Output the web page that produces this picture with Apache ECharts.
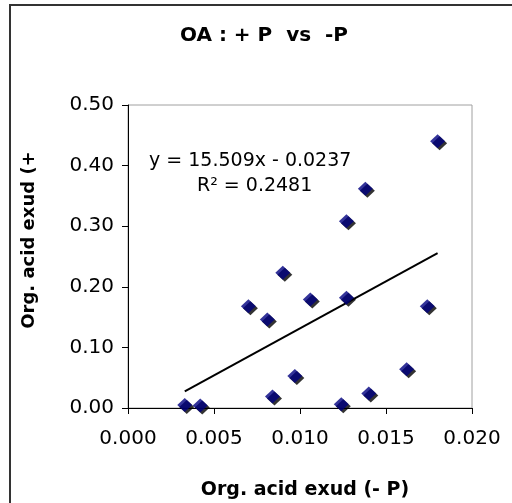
<!DOCTYPE html>
<html>
<head>
<meta charset="utf-8">
<script src="https://cdn.jsdelivr.net/npm/echarts@6/dist/echarts.min.js"></script>
<style>
html,body{margin:0;padding:0;background:#fff;}
#chart{width:512px;height:503px;}
</style>
</head>
<body>
<div id="chart"></div>
<script>
// Data
var xMinusP = [0.0033, 0.0042, 0.0070, 0.0081, 0.0084, 0.0090, 0.0097, 0.0106, 0.0127, 0.0127, 0.0124, 0.0138, 0.0140, 0.0162, 0.0174, 0.0180];
var yPlusP  = [0.005, 0.004, 0.168, 0.146, 0.019, 0.223, 0.053, 0.179, 0.308, 0.182, 0.006, 0.362, 0.024, 0.064, 0.168, 0.440];
var trendSlope = 15.509;
var trendIntercept = -0.0237;
var xTickLabels = ['0.000', '0.005', '0.010', '0.015', '0.020'];
var yTickLabels = ['0.00', '0.10', '0.20', '0.30', '0.40', '0.50'];
var titleText = 'OA : + P  vs  -P';
var xAxisTitle = 'Org. acid exud (- P)';
var yAxisTitle = 'Org. acid exud (+';
var eqLine1 = 'y = 15.509x - 0.0237';
var eqLine2 = 'R\u00b2 = 0.2481';

var pts = xMinusP.map(function (x, i) { return [x, yPlusP[i]]; });
var xmin = Math.min.apply(null, xMinusP), xmax = Math.max.apply(null, xMinusP);
var trend = [[xmin, trendSlope * xmin + trendIntercept], [xmax, trendSlope * xmax + trendIntercept]];

var FONT = '"DejaVu Sans", Verdana, sans-serif';
var chart = echarts.init(document.getElementById('chart'), null, {renderer: 'canvas'});
chart.setOption({
  animation: false,
  backgroundColor: '#fff',
  grid: {left: 128, right: 40, top: 105, bottom: 95, show: true, borderColor: '#a0a0a0', borderWidth: 1, backgroundColor: 'transparent'},
  xAxis: {
    type: 'value', min: 0, max: 0.02, interval: 0.005,
    axisLine: {show: true, onZero: false, lineStyle: {color: '#000', width: 1}},
    axisTick: {show: true, inside: false, length: 6, lineStyle: {color: '#000'}},
    splitLine: {show: false},
    axisLabel: {fontFamily: FONT, fontSize: 20, color: '#000', margin: 21,
      formatter: function (v) { return xTickLabels[Math.round(v / 0.005)]; }}
  },
  yAxis: {
    type: 'value', min: 0, max: 0.5, interval: 0.1,
    axisLine: {show: true, onZero: false, lineStyle: {color: '#000', width: 1}},
    axisTick: {show: true, inside: false, length: 6, lineStyle: {color: '#000'}},
    splitLine: {show: false},
    axisLabel: {fontFamily: FONT, fontSize: 20, color: '#000', margin: 14,
      formatter: function (v) { return yTickLabels[Math.round(v / 0.1)]; }}
  },
  series: [
    {
      type: 'line', data: trend, symbol: 'none', silent: true, z: 3,
      lineStyle: {color: '#000', width: 2}
    },
    {
      type: 'scatter', data: pts, symbol: 'diamond', symbolSize: [15, 14], z: 4,
      itemStyle: {color: '#000080', shadowColor: '#000', shadowBlur: 0, shadowOffsetX: 2, shadowOffsetY: 2}
    }
  ],
  graphic: [
    {type: 'rect', shape: {x: 10, y: 5, width: 520, height: 520}, style: {fill: 'none', stroke: '#333', lineWidth: 2}, z: 100, silent: true},
    {type: 'text', x: 264, y: 36, style: {text: titleText, font: 'bold 20px ' + FONT, fill: '#000', align: 'center', verticalAlign: 'middle'}},
    {type: 'text', x: 149, y: 161, style: {text: eqLine1, font: '19px ' + FONT, fill: '#000', align: 'left', verticalAlign: 'middle'}},
    {type: 'text', x: 197, y: 186, style: {text: eqLine2, font: '19px ' + FONT, fill: '#000', align: 'left', verticalAlign: 'middle'}},
    {type: 'text', x: 305, y: 490, style: {text: xAxisTitle, font: 'bold 19px ' + FONT, fill: '#000', align: 'center', verticalAlign: 'middle'}},
    {type: 'text', x: 29, y: 240, rotation: Math.PI / 2, style: {text: yAxisTitle, font: 'bold 18px ' + FONT, fill: '#000', align: 'center', verticalAlign: 'middle'}}
  ]
});
</script>
</body>
</html>
